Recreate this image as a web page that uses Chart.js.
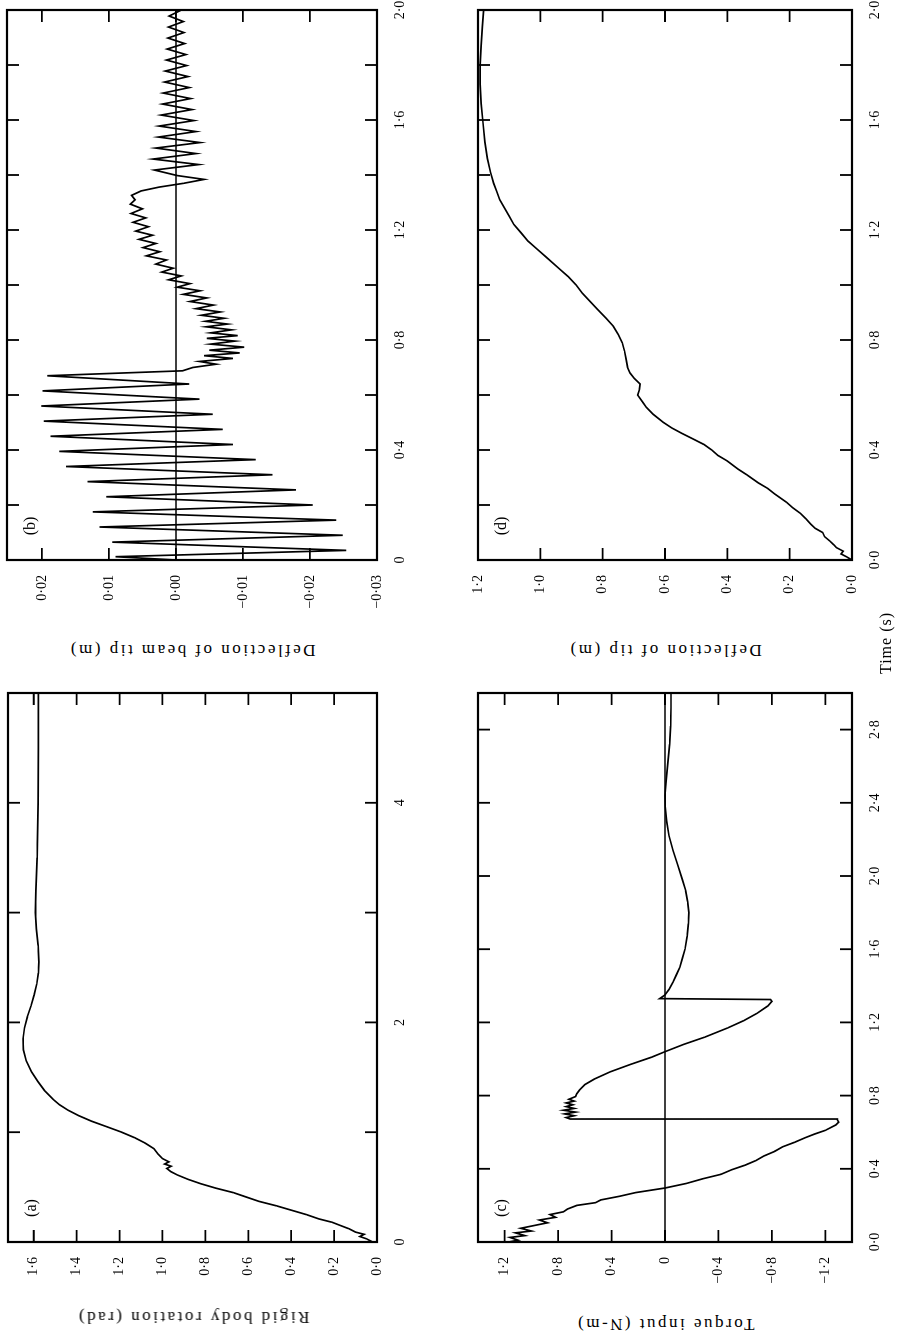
<!DOCTYPE html>
<html>
<head>
<meta charset="utf-8">
<script src="https://cdn.jsdelivr.net/npm/chart.js@4.4.1/dist/chart.umd.min.js"></script>
<style>
  html, body { margin: 0; padding: 0; background: #fff; }
  body { width: 900px; height: 1341px; overflow: hidden; position: relative; }
  /* the figure is laid out landscape and turned a quarter turn onto the portrait page */
  #sheet {
    position: absolute; left: 0; top: 0; width: 1341px; height: 900px;
    transform-origin: 0 0; transform: translate(0, 1341px) rotate(-90deg);
    font-family: "Liberation Serif", "DejaVu Serif", serif; color: #000; background: #fff;
  }
  .panel { position: absolute; }
  .title { position: absolute; white-space: nowrap; font-size: 17px; letter-spacing: 2.5px;
           transform: translate(-50%, -50%) rotate(-90deg); }
  .tag { position: absolute; white-space: nowrap; font-size: 16px; transform: translate(-50%, -50%); }
  .time { position: absolute; white-space: nowrap; font-size: 16px; letter-spacing: 1px; transform: translate(-50%, -50%); }
</style>
</head>
<body>
<div id="sheet"></div>
<script>
// (a) rigid body rotation (rad) against time (s)
const rotT = [0, 0.03, 0.05, 0.07, 0.09, 0.12, 0.15, 0.18, 0.21, 0.25, 0.29, 0.33, 0.37, 0.41, 0.45, 0.49, 0.53, 0.57, 0.61, 0.64,
  0.67, 0.69, 0.71, 0.73, 0.76, 0.8, 0.85, 0.9, 0.95, 1.0, 1.05, 1.1, 1.15, 1.2, 1.25, 1.3, 1.38, 1.46, 1.55, 1.65,
  1.75, 1.85, 1.95, 2.05, 2.15, 2.25, 2.35, 2.45, 2.55, 2.7, 2.85, 3.0, 3.2, 3.5, 4.0, 4.5, 5.0];
const rotV = [0.02, 0.05, 0.08, 0.06, 0.1, 0.13, 0.17, 0.21, 0.27, 0.33, 0.4, 0.47, 0.55, 0.61, 0.67, 0.75, 0.82, 0.88, 0.93, 0.96,
  0.98, 0.96, 0.99, 0.97, 1.0, 1.02, 1.04, 1.08, 1.13, 1.19, 1.26, 1.33, 1.39, 1.44, 1.48, 1.51, 1.55, 1.58, 1.61, 1.635,
  1.648, 1.65, 1.643, 1.63, 1.613, 1.598, 1.586, 1.578, 1.576, 1.58, 1.588, 1.592, 1.59, 1.584, 1.58, 1.578, 1.578];

// (b) deflection of beam tip (m) against time (s)
const beamT = [0, 0.012, 0.035, 0.065, 0.09, 0.12, 0.145, 0.175, 0.2, 0.23, 0.255, 0.285, 0.31, 0.34, 0.365, 0.395, 0.42, 0.45,
  0.475, 0.505, 0.53, 0.56, 0.585, 0.615, 0.64, 0.67, 0.688,
  0.7, 0.712, 0.722, 0.733, 0.743, 0.753, 0.763, 0.774, 0.785, 0.796, 0.806, 0.816, 0.826, 0.837, 0.848, 0.858, 0.868, 0.879,
  0.89, 0.902, 0.914, 0.927, 0.94, 0.953, 0.966, 0.979, 0.992, 1.005, 1.019, 1.033, 1.047, 1.061, 1.076, 1.091, 1.106, 1.121,
  1.136, 1.151, 1.166, 1.181, 1.196, 1.212, 1.228, 1.244, 1.26, 1.277, 1.294, 1.31, 1.326, 1.342, 1.356, 1.37, 1.384, 1.398,
  1.418, 1.438, 1.458, 1.478, 1.498, 1.518, 1.538, 1.558, 1.578, 1.598, 1.618, 1.638, 1.658, 1.678, 1.698, 1.718, 1.738,
  1.758, 1.778, 1.798, 1.818, 1.838, 1.858, 1.878, 1.898, 1.918, 1.938, 1.958, 1.978, 2.0];
const beamV = [0, 0.009, -0.0254, 0.0095, -0.0249, 0.0114, -0.0239, 0.0124, -0.0204, 0.0104, -0.0179, 0.0132, -0.0144, 0.0164,
  -0.0119, 0.0174, -0.0085, 0.0187, -0.007, 0.0197, -0.0055, 0.0201, -0.0035, 0.0199, -0.002, 0.0192, -0.001,
  -0.0025, -0.006, -0.0035, -0.0085, -0.0042, -0.0095, -0.005, -0.0102, -0.0052, -0.0088, -0.0046, -0.0092, -0.0052, -0.0083,
  -0.0045, -0.0077, -0.0044, -0.0072, -0.0038, -0.0066, -0.003, -0.0056, -0.0021, -0.0046, -0.0011, -0.0036, -0.0002, -0.0021,
  0.0011, -0.0008, 0.0021, 0.0004, 0.003, 0.0014, 0.0044, 0.0024, 0.0049, 0.003, 0.0055, 0.0035, 0.006, 0.0041, 0.0064,
  0.0045, 0.0067, 0.005, 0.0068, 0.0061, 0.0066, 0.0052, 0.0025, -0.0012, -0.0042, -0.0002,
  0.0032, -0.0034, 0.0034, -0.003, 0.003, -0.0036, 0.0026, -0.003, 0.0025, -0.0027, 0.0022, -0.0024, 0.002, -0.0022, 0.0019,
  -0.002, 0.0017, -0.0018, 0.0016, -0.0016, 0.0014, -0.0015, 0.0013, -0.0013, 0.0012, -0.0012, 0.0011, -0.0011, 0.001, -0.0008];

// (c) torque input (N-m) against time (s)
const torqueT = [0, 0.01, 0.025, 0.035, 0.05, 0.06, 0.075, 0.09, 0.105, 0.12, 0.135, 0.15, 0.165, 0.18, 0.2, 0.215, 0.23, 0.25,
  0.27, 0.295, 0.32, 0.345, 0.37, 0.395, 0.42, 0.445, 0.47, 0.495, 0.52, 0.545, 0.57, 0.59, 0.61, 0.625, 0.64, 0.655, 0.668,
  0.672, 0.68, 0.69, 0.7, 0.71, 0.72, 0.73, 0.74, 0.75, 0.76, 0.77, 0.78, 0.795, 0.81, 0.83, 0.86, 0.89, 0.93, 0.97, 1.01,
  1.04, 1.08, 1.12, 1.17, 1.21, 1.25, 1.29, 1.315, 1.325, 1.33, 1.35, 1.38, 1.42, 1.46, 1.5, 1.55, 1.6, 1.67, 1.74, 1.8,
  1.86, 1.92, 1.98, 2.06, 2.14, 2.22, 2.3, 2.38, 2.44, 2.52, 2.62, 2.72, 2.82, 2.92, 3.0];
const torqueV = [1.17, 1.1, 1.16, 1.05, 1.12, 1.0, 1.08, 0.98, 0.88, 0.94, 0.82, 0.86, 0.76, 0.73, 0.66, 0.52, 0.48, 0.34,
  0.22, 0.0, -0.16, -0.28, -0.42, -0.5, -0.6, -0.68, -0.74, -0.82, -0.88, -0.97, -1.05, -1.12, -1.2, -1.24, -1.28, -1.3, -1.29,
  0.71, 0.74, 0.68, 0.75, 0.67, 0.76, 0.68, 0.74, 0.69, 0.74, 0.68, 0.72, 0.67, 0.66, 0.64, 0.6, 0.53, 0.41, 0.26, 0.1,
  0.0, -0.14, -0.3, -0.47, -0.59, -0.69, -0.77, -0.8, -0.79, 0.04, 0.0, -0.03, -0.06, -0.085, -0.11, -0.13, -0.15, -0.165,
  -0.175, -0.178, -0.17, -0.155, -0.13, -0.095, -0.06, -0.03, -0.012, -0.002, 0.0, -0.008, -0.022, -0.035, -0.042, -0.045, -0.045];

// (d) deflection of tip (m) against time (s)
const tipT = [0, 0.012, 0.022, 0.032, 0.045, 0.055, 0.07, 0.085, 0.1, 0.115, 0.13, 0.15, 0.17, 0.19, 0.21, 0.24, 0.26, 0.28,
  0.31, 0.33, 0.36, 0.38, 0.4, 0.42, 0.44, 0.46, 0.48, 0.5, 0.53, 0.555, 0.575, 0.6, 0.62, 0.64, 0.66, 0.68, 0.7, 0.73, 0.76,
  0.79, 0.82, 0.85, 0.88, 0.91, 0.94, 0.97, 1.0, 1.03, 1.06, 1.1, 1.13, 1.16, 1.19, 1.22, 1.25, 1.28, 1.31, 1.34, 1.37, 1.41,
  1.46, 1.52, 1.59, 1.66, 1.73, 1.8, 1.87, 1.94, 2.0];
const tipV = [0, 0.018, 0.035, 0.028, 0.05, 0.058, 0.072, 0.088, 0.094, 0.118, 0.132, 0.148, 0.166, 0.19, 0.21, 0.248, 0.27, 0.3,
  0.338, 0.365, 0.4, 0.43, 0.45, 0.475, 0.51, 0.545, 0.578, 0.605, 0.638, 0.66, 0.672, 0.688, 0.682, 0.68, 0.698, 0.712, 0.72,
  0.725, 0.73, 0.737, 0.75, 0.766, 0.79, 0.815, 0.84, 0.865, 0.885, 0.91, 0.94, 0.98, 1.01, 1.04, 1.062, 1.085, 1.1, 1.115,
  1.13, 1.14, 1.15, 1.16, 1.17, 1.178, 1.184, 1.19, 1.193, 1.193, 1.19, 1.186, 1.182];

// tick positions and their printed labels
const rotTimeTicks = [0, 1, 2, 3, 4, 5];
const rotTimeLabels = ['0', '', '2', '', '4', ''];
const rotTicks = [0, 0.2, 0.4, 0.6, 0.8, 1.0, 1.2, 1.4, 1.6];
const rotLabels = ['0·0', '0·2', '0·4', '0·6', '0·8', '1·0', '1·2', '1·4', '1·6'];
const beamTimeTicks = [0, 0.2, 0.4, 0.6, 0.8, 1.0, 1.2, 1.4, 1.6, 1.8, 2.0];
const beamTimeLabels = ['0', '', '0·4', '', '0·8', '', '1·2', '', '1·6', '', '2·0'];
const beamTicks = [-0.03, -0.02, -0.01, 0, 0.01, 0.02];
const beamLabels = ['−0·03', '−0·02', '−0·01', '0·00', '0·01', '0·02'];
const torqueTimeTicks = [0, 0.4, 0.8, 1.2, 1.6, 2.0, 2.4, 2.8];
const torqueTimeLabels = ['0·0', '0·4', '0·8', '1·2', '1·6', '2·0', '2·4', '2·8'];
const torqueTicks = [-1.2, -0.8, -0.4, 0, 0.4, 0.8, 1.2];
const torqueLabels = ['−1·2', '−0·8', '−0·4', '0', '0·4', '0·8', '1·2'];
const tipTimeTicks = [0, 0.2, 0.4, 0.6, 0.8, 1.0, 1.2, 1.4, 1.6, 1.8, 2.0];
const tipTimeLabels = ['0·0', '', '0·4', '', '0·8', '', '1·2', '', '1·6', '', '2·0'];
const tipTicks = [0, 0.2, 0.4, 0.6, 0.8, 1.0, 1.2];
const tipLabels = ['0·0', '0·2', '0·4', '0·6', '0·8', '1·0', '1·2'];

const INK = '#000';
const TICK_FONT = { family: '"Liberation Serif", "DejaVu Serif", serif', size: 14 };
const MARGIN = { left: 70, top: 8, right: 14, bottom: 30 };

// box frame with inward tick marks on all four sides
const boxTicks = {
  id: 'boxTicks',
  afterDatasetsDraw(chart, args, opts) {
    const { ctx, chartArea: a } = chart;
    const len = opts.length || 12;
    ctx.save();
    ctx.strokeStyle = INK;
    ctx.lineWidth = 1.8;
    ctx.beginPath();
    for (const s of Object.values(chart.scales)) {
      for (const t of s.ticks) {
        const p = s.getPixelForValue(t.value);
        if (s.isHorizontal()) {
          ctx.moveTo(p, a.bottom); ctx.lineTo(p, a.bottom - len);
          ctx.moveTo(p, a.top); ctx.lineTo(p, a.top + len);
        } else {
          ctx.moveTo(a.left, p); ctx.lineTo(a.left + len, p);
          ctx.moveTo(a.right, p); ctx.lineTo(a.right - len, p);
        }
      }
    }
    ctx.stroke();
    ctx.lineWidth = 2.2;
    ctx.strokeRect(a.left, a.top, a.right - a.left, a.bottom - a.top);
    ctx.restore();
  }
};

function axis(min, max, ticks, labels, horizontal) {
  return {
    type: 'linear', min, max,
    grid: { display: false }, border: { display: false },
    afterBuildTicks: s => { s.ticks = ticks.map(v => ({ value: v })); },
    afterFit: s => {
      if (horizontal) s.height = MARGIN.bottom; else s.width = MARGIN.left;
      s.paddingLeft = 0; s.paddingRight = 0; s.paddingTop = 0; s.paddingBottom = 0;
    },
    ticks: {
      autoSkip: false, maxRotation: 0, minRotation: 0, color: INK, font: TICK_FONT,
      padding: 7, callback: (v, i) => labels[i] ?? ''
    }
  };
}

function panel(p) {
  const sheet = document.getElementById('sheet');
  const w = p.frame.w + MARGIN.left + MARGIN.right;
  const h = p.frame.h + MARGIN.top + MARGIN.bottom;
  const c = document.createElement('canvas');
  c.width = w; c.height = h;
  c.className = 'panel';
  c.style.left = (p.frame.x - MARGIN.left) + 'px';
  c.style.top = (p.frame.y - MARGIN.top) + 'px';
  c.style.width = w + 'px';
  c.style.height = h + 'px';
  sheet.appendChild(c);

  const datasets = [{
    data: p.t.map((t, i) => ({ x: t, y: p.v[i] })),
    borderColor: INK, borderWidth: 1.7, pointRadius: 0, tension: 0, fill: false
  }];
  if (p.zeroLine) {
    datasets.push({
      data: [{ x: p.xRange[0], y: 0 }, { x: p.xRange[1], y: 0 }],
      borderColor: INK, borderWidth: 1.5, pointRadius: 0, fill: false
    });
  }

  new Chart(c, {
    type: 'line',
    data: { datasets },
    options: {
      responsive: false, animation: false, devicePixelRatio: 1,
      layout: { autoPadding: false, padding: { left: 0, top: MARGIN.top, right: MARGIN.right, bottom: 0 } },
      plugins: { legend: { display: false }, tooltip: { enabled: false }, boxTicks: { length: 12 } },
      scales: {
        x: axis(p.xRange[0], p.xRange[1], p.xTicks, p.xLabels, true),
        y: axis(p.yRange[0], p.yRange[1], p.yTicks, p.yLabels, false)
      }
    },
    plugins: [boxTicks]
  });

  const title = document.createElement('div');
  title.className = 'title';
  title.textContent = p.title;
  title.style.left = p.titleX + 'px';
  title.style.top = (p.frame.y + p.frame.h / 2) + 'px';
  sheet.appendChild(title);

  const tag = document.createElement('div');
  tag.className = 'tag';
  tag.textContent = p.tag;
  tag.style.left = (p.frame.x + 34) + 'px';
  tag.style.top = (p.frame.y + 23) + 'px';
  sheet.appendChild(tag);
}

panel({
  tag: '(a)', title: 'Rigid body rotation (rad)', titleX: 24,
  frame: { x: 99, y: 8, w: 549, h: 369 },
  t: rotT, v: rotV, xRange: [0, 5], yRange: [0, 1.72],
  xTicks: rotTimeTicks, xLabels: rotTimeLabels, yTicks: rotTicks, yLabels: rotLabels
});
panel({
  tag: '(b)', title: 'Deflection of beam tip (m)', titleX: 691,
  frame: { x: 781, y: 7, w: 550, h: 370 },
  t: beamT, v: beamV, xRange: [0, 2], yRange: [-0.03, 0.0252], zeroLine: true,
  xTicks: beamTimeTicks, xLabels: beamTimeLabels, yTicks: beamTicks, yLabels: beamLabels
});
panel({
  tag: '(c)', title: 'Torque input (N-m)', titleX: 17,
  frame: { x: 99, y: 478, w: 549, h: 374 },
  t: torqueT, v: torqueV, xRange: [0, 3], yRange: [-1.4, 1.4], zeroLine: true,
  xTicks: torqueTimeTicks, xLabels: torqueTimeLabels, yTicks: torqueTicks, yLabels: torqueLabels
});
panel({
  tag: '(d)', title: 'Deflection of tip (m)', titleX: 691,
  frame: { x: 781, y: 478, w: 550, h: 374 },
  t: tipT, v: tipV, xRange: [0, 2], yRange: [0, 1.2],
  xTicks: tipTimeTicks, xLabels: tipTimeLabels, yTicks: tipTicks, yLabels: tipLabels
});

const timeLabel = document.createElement('div');
timeLabel.className = 'time';
timeLabel.textContent = 'Time (s)';
timeLabel.style.left = '698px';
timeLabel.style.top = '886px';
document.getElementById('sheet').appendChild(timeLabel);
</script>
</body>
</html>
